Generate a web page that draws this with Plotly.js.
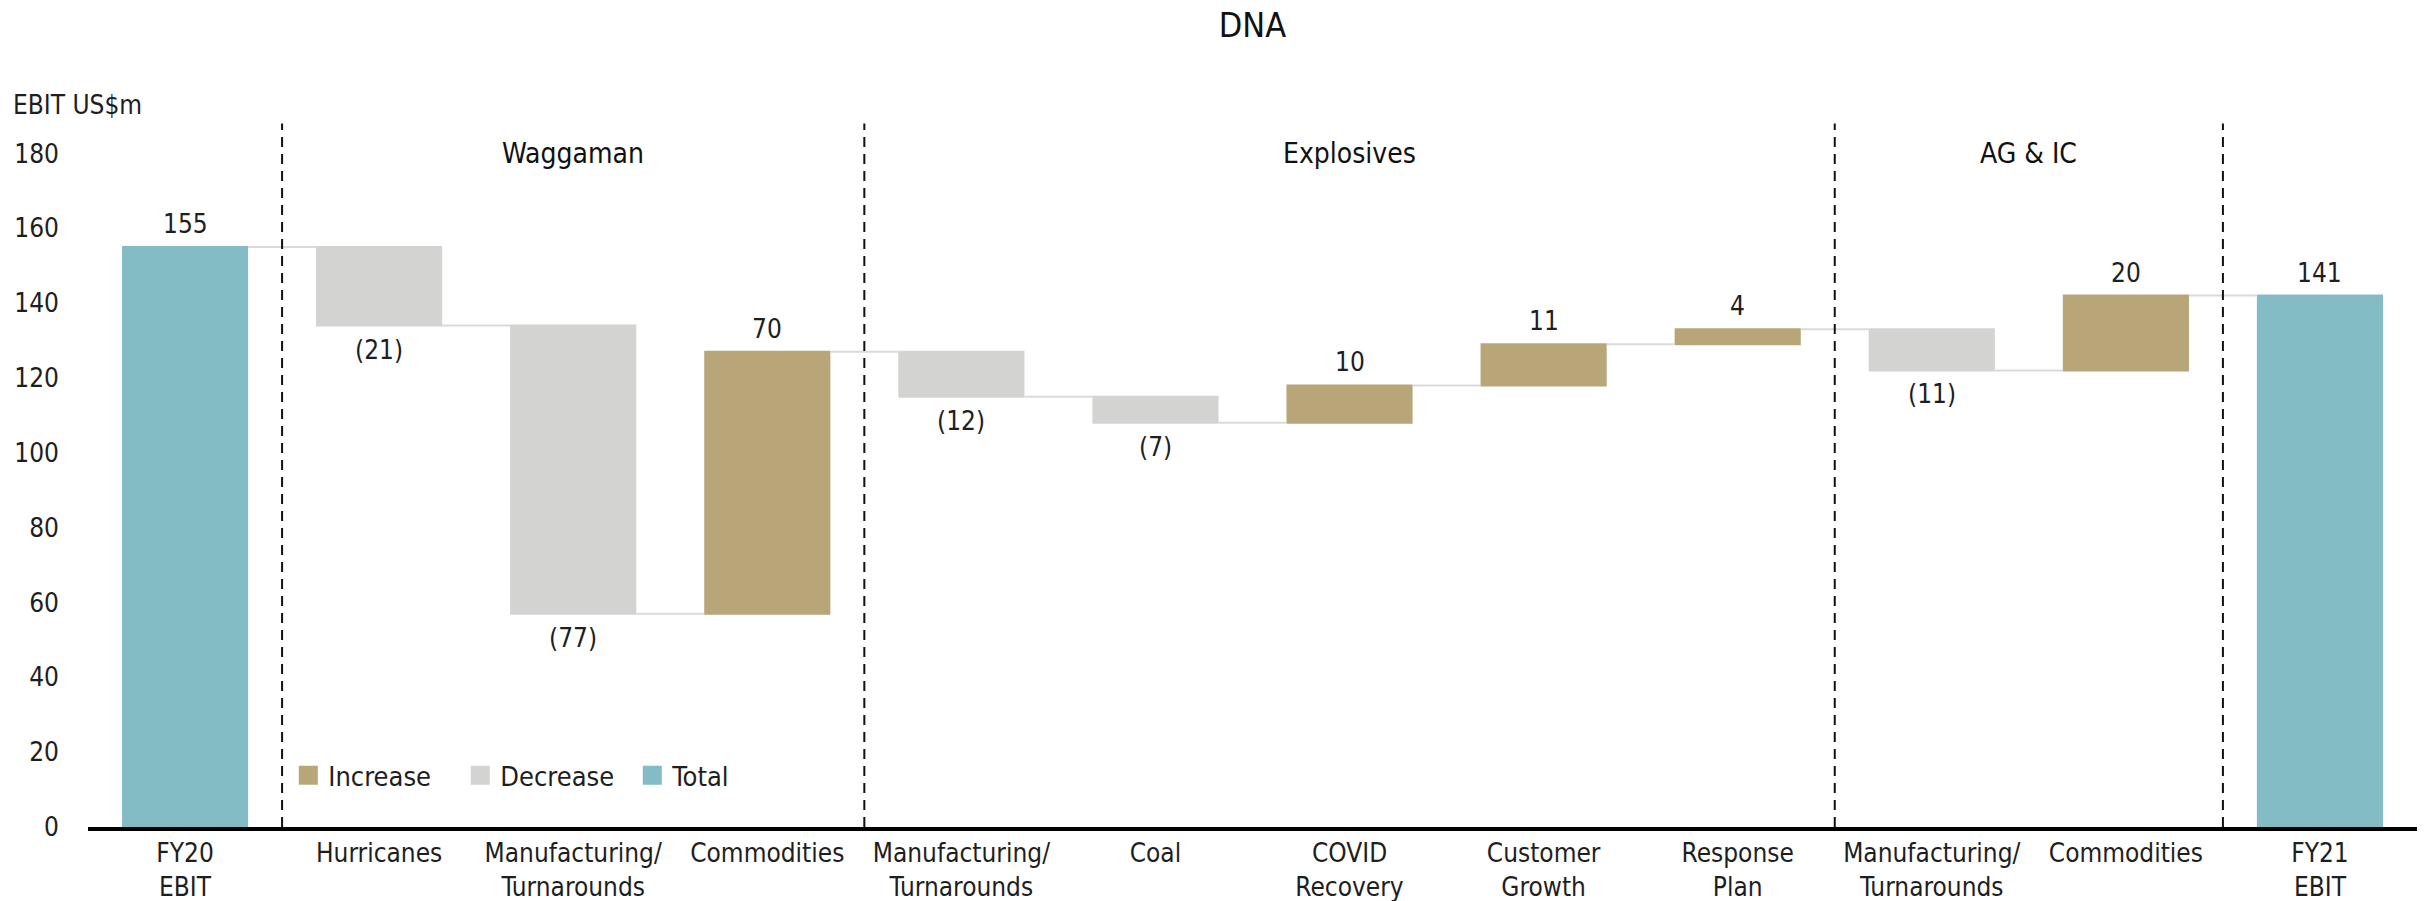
<!DOCTYPE html>
<html>
<head>
<meta charset="utf-8">
<script src="https://cdn.plot.ly/plotly-3.0.1.min.js"></script>
<style>
  html, body { margin: 0; padding: 0; background: #ffffff; }
  #chart { width: 2425px; height: 901px; }
</style>
</head>
<body>
<div id="chart"></div>
<script>
// ---- Data ----
const categories = [
  'FY20<br>EBIT', 'Hurricanes', 'Manufacturing/<br>Turnarounds', 'Commodities',
  'Manufacturing/<br>Turnarounds', 'Coal', 'COVID<br>Recovery', 'Customer<br>Growth',
  'Response<br>Plan', 'Manufacturing/<br>Turnarounds', 'Commodities', 'FY21<br>EBIT'
];
const values = [155, -21, -77, 70, -12, -7, 10, 11, 4, -11, 20, 141];
const measures = ['absolute', 'relative', 'relative', 'relative', 'relative', 'relative',
                  'relative', 'relative', 'relative', 'relative', 'relative', 'total'];
const valueLabels = ['155', '(21)', '(77)', '70', '(12)', '(7)', '10', '11', '4', '(11)', '20', '141'];
const sectionNames = ['Waggaman', 'Explosives', 'AG & IC'];
const sectionFirst = [1, 4, 9];   // index of first category in section
const sectionLast = [3, 8, 10];   // index of last category in section
const legendNames = ['Increase', 'Decrease', 'Total'];
const yTicks = [0, 20, 40, 60, 80, 100, 120, 140, 160, 180];

// ---- Styles ----
const FONT = 'DejaVu Sans Condensed, Liberation Sans Narrow, sans-serif';
const C_INC = '#B8A679';
const C_DEC = '#D3D3D2';
const C_TOT = '#83BCC4';
const legendColors = [C_INC, C_DEC, C_TOT];
const TXT = '#1e1e1e';

const xIdx = categories.map((_, i) => i);

const traces = [{
  type: 'waterfall',
  x: xIdx,
  y: values,
  measure: measures,
  textinfo: 'none',
  increasing: { marker: { color: C_INC } },
  decreasing: { marker: { color: C_DEC } },
  totals: { marker: { color: C_TOT } },
  connector: { mode: 'between', line: { color: '#DADADA', width: 2 } },
  showlegend: false,
  hoverinfo: 'skip'
}];

legendNames.forEach((n, i) => {
  traces.push({
    type: 'scatter', mode: 'markers', x: [0], y: [null], name: n,
    marker: { color: legendColors[i], symbol: 'square', size: 20,
              line: { color: legendColors[i], width: 3 } },
    showlegend: true, hoverinfo: 'skip'
  });
});

const shapes = [];
const annotations = [];

// Value labels placed at the end of each waterfall step (computed from data)
let running = 0;
values.forEach((v, i) => {
  let yPos, shift;
  if (measures[i] === 'absolute') { running = v; yPos = running; shift = 23; }
  else if (measures[i] === 'total') { yPos = running; shift = 23; }
  else {
    running += v;
    yPos = running;
    shift = v >= 0 ? 23 : -24;
  }
  annotations.push({
    xref: 'x', yref: 'y', x: i, y: yPos, yshift: shift,
    text: valueLabels[i], showarrow: false, xanchor: 'center', yanchor: 'middle',
    font: { family: FONT, size: 26, color: TXT }
  });
});

// Divider lines between sections
const dividers = [sectionFirst[0] - 0.5].concat(sectionLast.map(v => v + 0.5));
dividers.forEach(xv => {
  shapes.push({
    type: 'line', xref: 'x', yref: 'y', x0: xv, x1: xv, y0: 0, y1: 188,
    line: { color: '#111111', width: 2, dash: '10px,7px' }, layer: 'above'
  });
});
sectionNames.forEach((s, i) => {
  annotations.push({
    xref: 'x', yref: 'y', x: (sectionFirst[i] + sectionLast[i]) / 2, y: 180,
    text: s, showarrow: false, xanchor: 'center', yanchor: 'middle',
    font: { family: FONT, size: 28, color: '#111111' }
  });
});
annotations.push({
  xref: 'paper', yref: 'paper', x: -0.033, y: 1.015, xanchor: 'left', yanchor: 'middle',
  text: 'EBIT US$m', showarrow: false,
  font: { family: FONT, size: 26, color: TXT }
});

const layout = {
  width: 2425, height: 901,
  margin: { l: 88, r: 8, t: 116, b: 74 },
  paper_bgcolor: '#ffffff', plot_bgcolor: '#ffffff',
  font: { family: FONT, size: 26, color: TXT },
  title: {
    text: 'DNA', x: 0.5, xref: 'paper', xanchor: 'center',
    y: 0.972, yref: 'container', yanchor: 'middle',
    font: { family: FONT, size: 34, color: '#111111' }
  },
  waterfallgap: 0.35,
  xaxis: {
    range: [-0.5, categories.length - 0.5],
    tickmode: 'array', tickvals: xIdx, ticktext: categories,
    showline: true, linecolor: '#000000', linewidth: 4,
    showgrid: false, zeroline: false, ticks: '',
    tickfont: { family: FONT, size: 26, color: TXT },
    fixedrange: true
  },
  yaxis: {
    range: [0, 190],
    tickmode: 'array', tickvals: yTicks,
    showline: false, showgrid: false, zeroline: false, ticks: '',
    ticklabelstandoff: 28,
    tickfont: { family: FONT, size: 26, color: TXT },
    fixedrange: true
  },
  legend: {
    orientation: 'h', x: 0.086, y: 0.072, xanchor: 'left', yanchor: 'middle',
    bgcolor: 'rgba(0,0,0,0)', font: { family: FONT, size: 27, color: TXT },
    entrywidth: 127, entrywidthmode: 'pixels', traceorder: 'normal'
  },
  shapes: shapes,
  annotations: annotations
};

Plotly.newPlot('chart', traces, layout, { displayModeBar: false, staticPlot: true });
</script>
</body>
</html>
